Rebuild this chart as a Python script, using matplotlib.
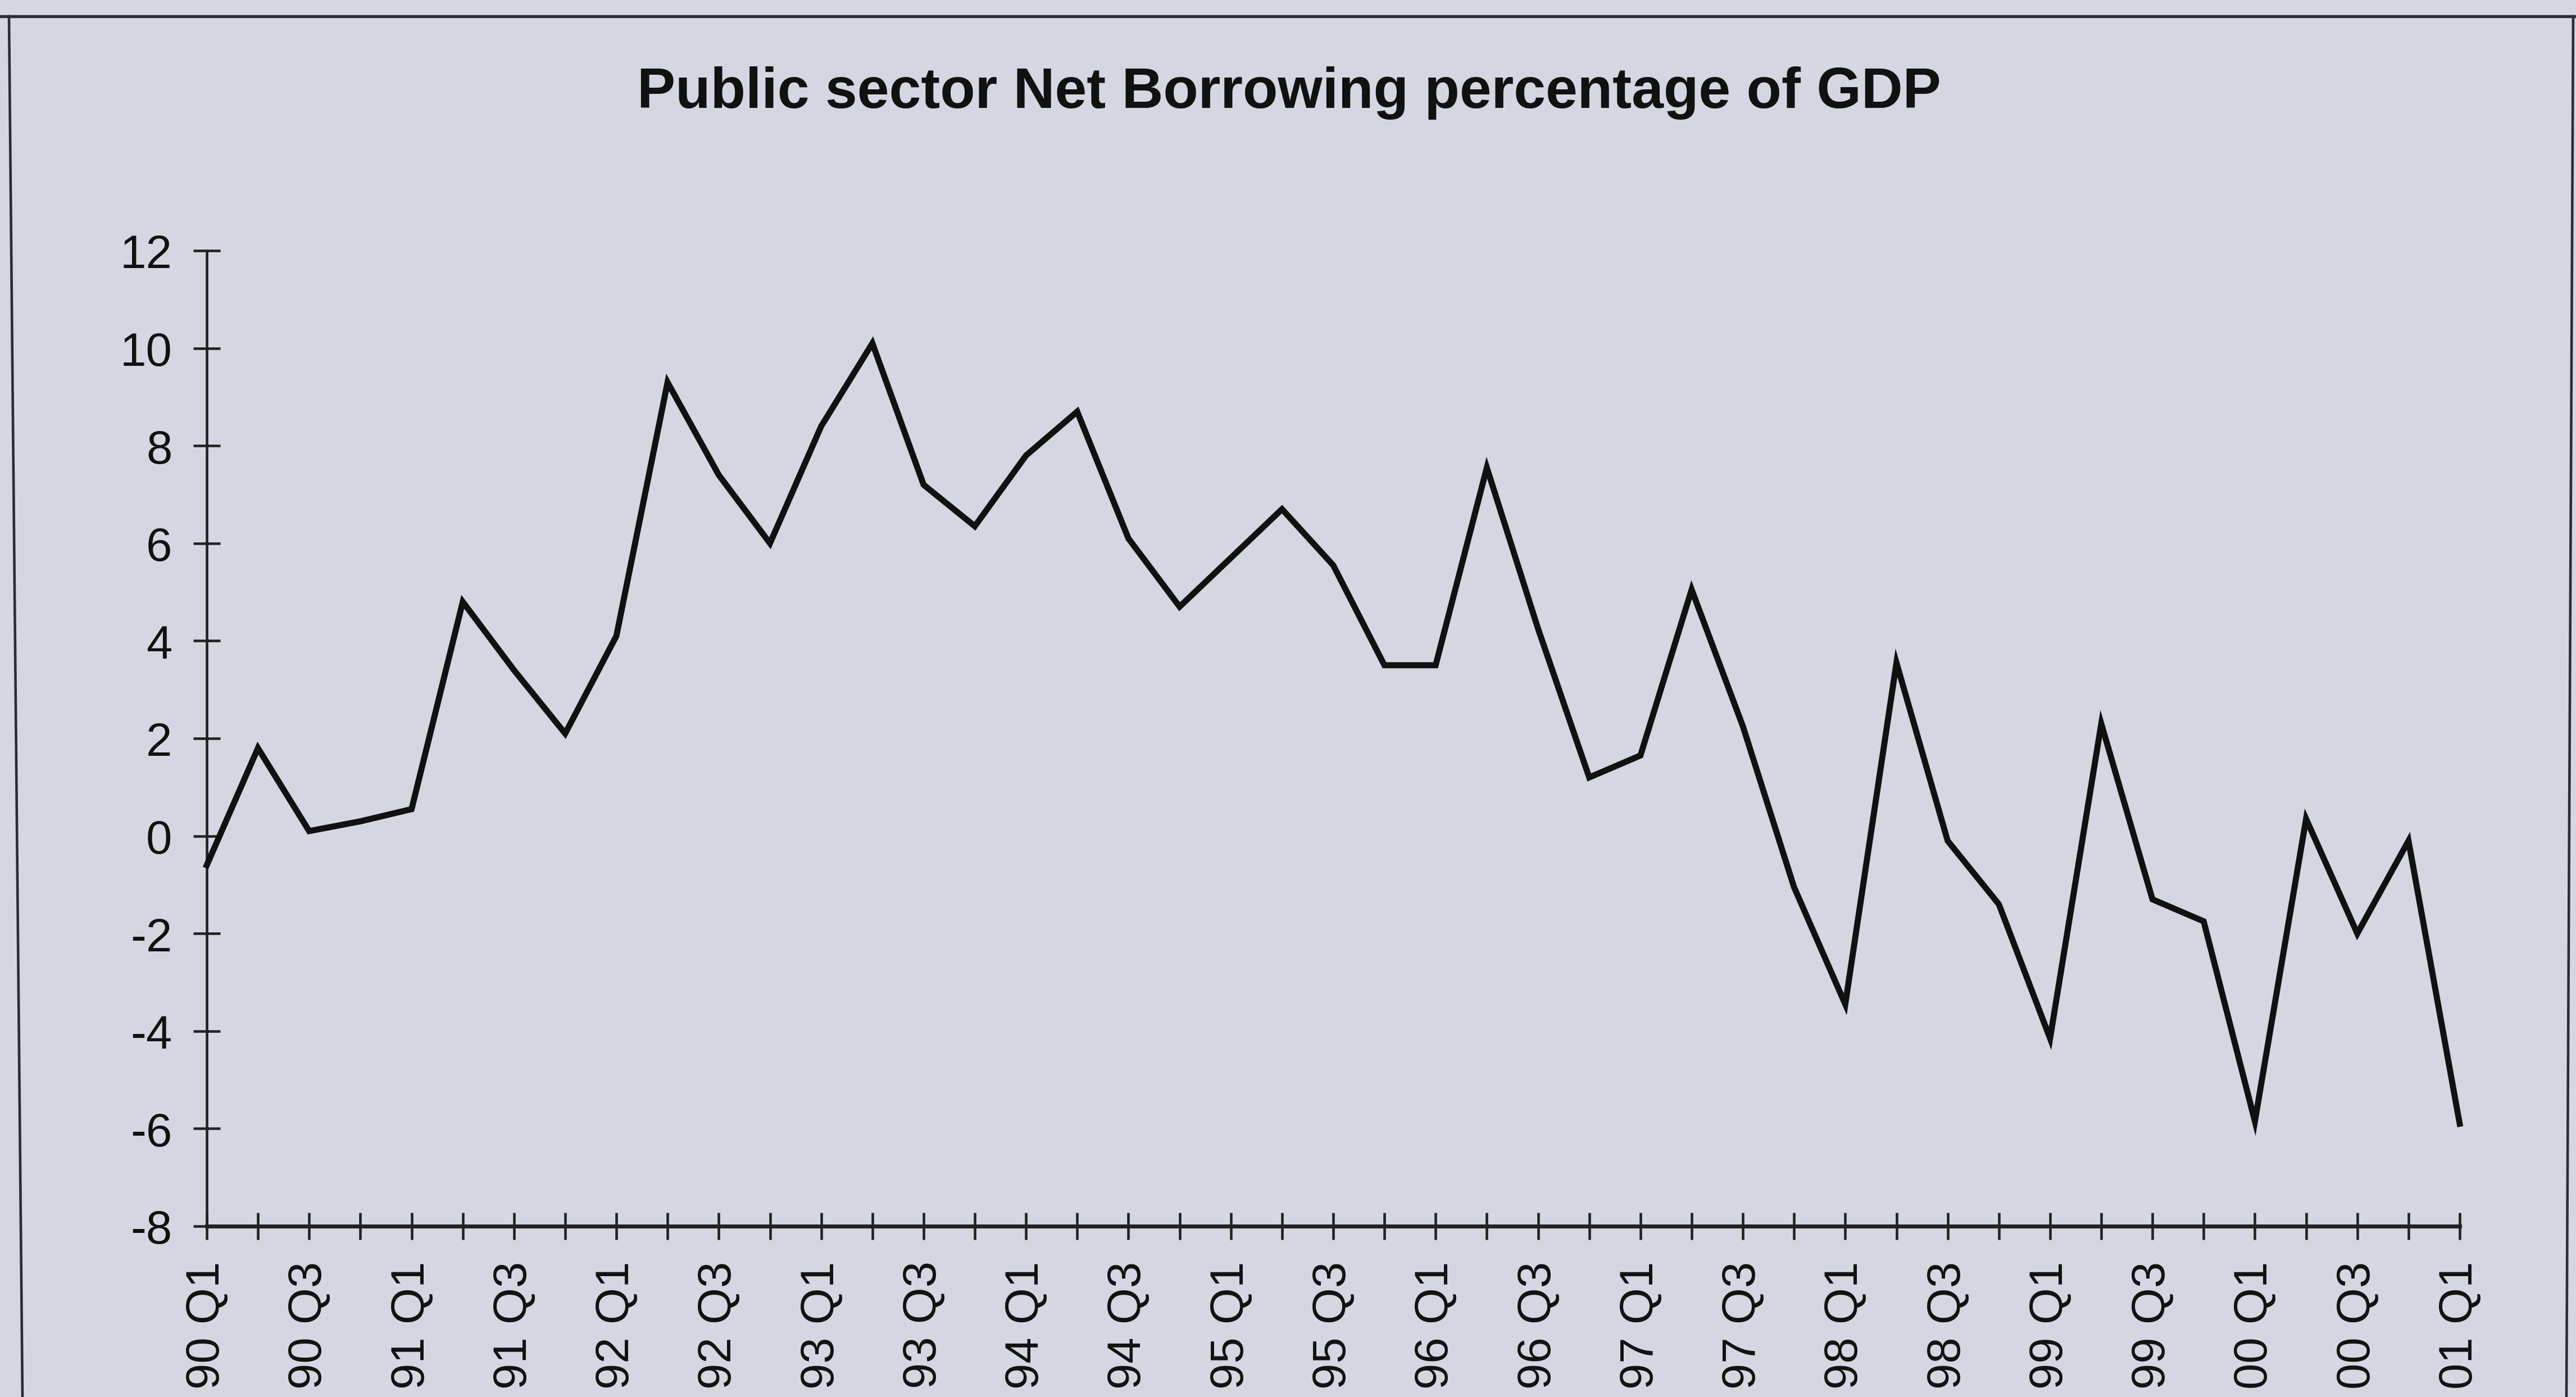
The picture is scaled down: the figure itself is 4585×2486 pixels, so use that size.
import matplotlib
matplotlib.use("Agg")
import matplotlib.pyplot as plt
from matplotlib.lines import Line2D

# ---- data ----
quarters = [f"{y:02d} Q{q}" for y in [90, 91, 92, 93, 94, 95, 96, 97, 98, 99, 0] for q in (1, 2, 3, 4)] + ["01 Q1"]
borrowing = [-0.6, 1.8, 0.1, 0.3, 0.55, 4.8, 3.4, 2.1, 4.1, 9.3, 7.4, 6.0,
             8.4, 10.1, 7.2, 6.35, 7.8, 8.7, 6.1, 4.7, 5.7, 6.7, 5.55, 3.5,
             3.5, 7.55, 4.25, 1.2, 1.65, 5.05, 2.25, -1.05, -3.45, 3.55, -0.1,
             -1.4, -4.15, 2.3, -1.3, -1.75, -5.85, 0.35, -2.0, -0.1, -5.9]
yticks = [-8, -6, -4, -2, 0, 2, 4, 6, 8, 10, 12]
title = "Public sector Net Borrowing percentage of GDP"

plt.rcParams['font.family'] = ['Liberation Sans', 'DejaVu Sans']
plt.rcParams['axes.unicode_minus'] = False

W, H, DPI = 4585, 2487, 300
bg = '#d4d7e2'
fig = plt.figure(figsize=(W / DPI, H / DPI), dpi=DPI, facecolor=bg)

left, right, top, bottom = 368, 4378, 447, 2183
ax = fig.add_axes([left / W, 1 - bottom / H, (right - left) / W, (bottom - top) / H])
ax.set_facecolor('none')

x = list(range(len(quarters)))
ax.plot(x, borrowing, color='#111111', lw=2.6, solid_joinstyle='miter', clip_on=False, zorder=3)

ax.set_xlim(0, len(quarters) - 1)
ax.set_ylim(-8, 12)
ax.set_yticks(yticks)
ax.set_yticklabels([str(v) for v in yticks])
ax.set_xticks(x)
ax.set_xticklabels([lab if i % 2 == 0 else "" for i, lab in enumerate(quarters)], rotation=90)

for s in ['top', 'right']:
    ax.spines[s].set_visible(False)
ax.spines['left'].set_color('#222222')
ax.spines['left'].set_linewidth(1.1)
ax.spines['bottom'].set_color('#222222')
ax.spines['bottom'].set_linewidth(1.7)

ax.tick_params(axis='both', direction='inout', length=11.5, width=1.1, color='#222222',
               labelsize=20, labelcolor='#111111', pad=9)

fig.text(0.5003, 1 - 192 / H, title, ha='center', va='baseline', fontsize=24.5,
         fontweight='bold', color='#111111')

# page frame lines
lc = '#2a2c36'
fig.add_artist(Line2D([0, 1], [1 - 30 / H, 1 - 30 / H], color=lc, lw=1.3, transform=fig.transFigure))
fig.add_artist(Line2D([16 / W, 40 / W], [1 - 30 / H, 0], color=lc, lw=1.1, transform=fig.transFigure))
fig.add_artist(Line2D([4580 / W, 4568 / W], [1 - 30 / H, 0], color=lc, lw=1.1, transform=fig.transFigure))

fig.savefig('out.png', dpi=DPI, facecolor=bg)
